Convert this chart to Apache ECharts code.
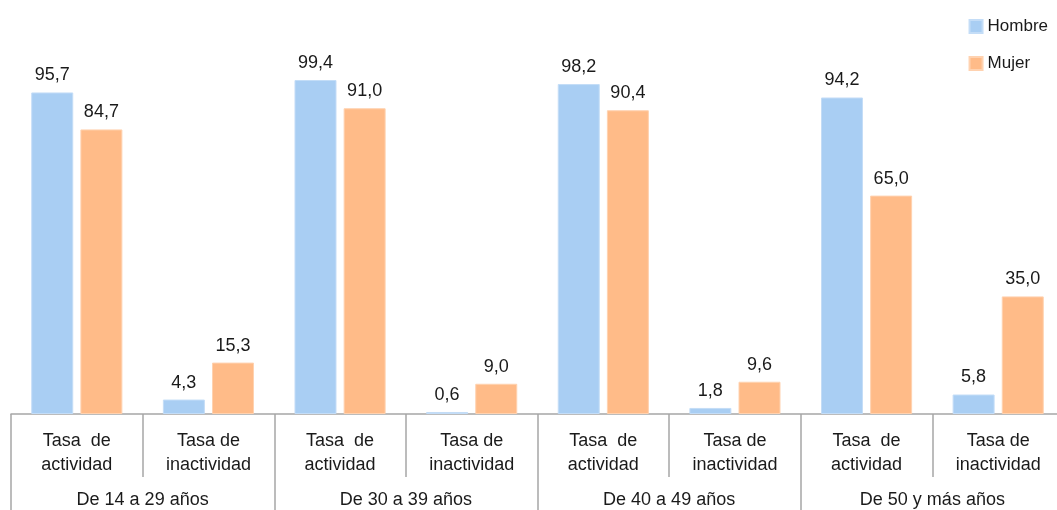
<!DOCTYPE html>
<html>
<head>
<meta charset="utf-8">
<script src="https://cdn.jsdelivr.net/npm/echarts@6/dist/echarts.min.js"></script>
<style>
html,body{margin:0;padding:0;background:#fff;overflow:hidden;}
#c{width:1057px;height:510px;}
</style>
</head>
<body>
<div id="c"></div>
<script>
var categories = ["Tasa  de\nactividad","Tasa de\ninactividad","Tasa  de\nactividad","Tasa de\ninactividad","Tasa  de\nactividad","Tasa de\ninactividad","Tasa  de\nactividad","Tasa de\ninactividad"];
var groups = ["De 14 a 29 años","De 30 a 39 años","De 40 a 49 años","De 50 y más años"];
var hombre = [95.7, 4.3, 99.4, 0.6, 98.2, 1.8, 94.2, 5.8];
var mujer = [84.7, 15.3, 91.0, 9.0, 90.4, 9.6, 65.0, 35.0];

var font = "'Liberation Sans', Arial, sans-serif";
var axisColor = '#a6a6a6';
var textColor = '#1a1a1a';
function fmt(p){ return p.value.toFixed(1).replace('.', ','); }

var chart = echarts.init(document.getElementById('c'), null, {width: 1057, height: 510});
chart.setOption({
  animation: false,
  textStyle: {fontFamily: font},
  legend: {
    orient: 'vertical', right: 4, top: 13,
    itemWidth: 13, itemHeight: 13, itemGap: 20,
    textStyle: {fontSize: 17, color: textColor, fontFamily: font},
    data: [
      {name: 'Hombre', icon: 'rect'},
      {name: 'Mujer', icon: 'rect'}
    ]
  },
  grid: {left: 11, top: 78, width: 1053, height: 336, containLabel: false, outerBoundsMode: 'none'},
  xAxis: [
    {
      type: 'category', data: categories, position: 'bottom',
      axisLine: {show: true, lineStyle: {color: axisColor, width: 1.5}},
      axisTick: {show: true, length: 63, lineStyle: {color: axisColor, width: 1.5}},
      axisLabel: {interval: 0, margin: 15, fontSize: 18, lineHeight: 24, color: textColor, fontFamily: font}
    },
    {
      type: 'category', data: groups, position: 'bottom',
      axisLine: {show: false},
      axisTick: {show: true, length: 96, lineStyle: {color: axisColor, width: 1.5}},
      axisLabel: {interval: 0, margin: 75, fontSize: 18, lineHeight: 22, color: textColor, fontFamily: font}
    }
  ],
  yAxis: {type: 'value', min: 0, max: 100, show: false, splitLine: {show: false}},
  series: [
    {
      name: 'Hombre', type: 'bar', data: hombre, xAxisIndex: 0,
      barWidth: 42, barGap: '17%',
      itemStyle: {color: '#a9cef3', borderColor: '#c4ddf7', borderWidth: 1},
      label: {show: true, position: 'top', distance: 8, fontSize: 18, color: textColor, fontFamily: font, formatter: fmt}
    },
    {
      name: 'Mujer', type: 'bar', data: mujer, xAxisIndex: 0,
      barWidth: 42, barGap: '17%',
      itemStyle: {color: '#ffbb88', borderColor: '#ffd2b0', borderWidth: 1},
      label: {show: true, position: 'top', distance: 8, fontSize: 18, color: textColor, fontFamily: font, formatter: fmt}
    }
  ]
});
</script>
</body>
</html>
